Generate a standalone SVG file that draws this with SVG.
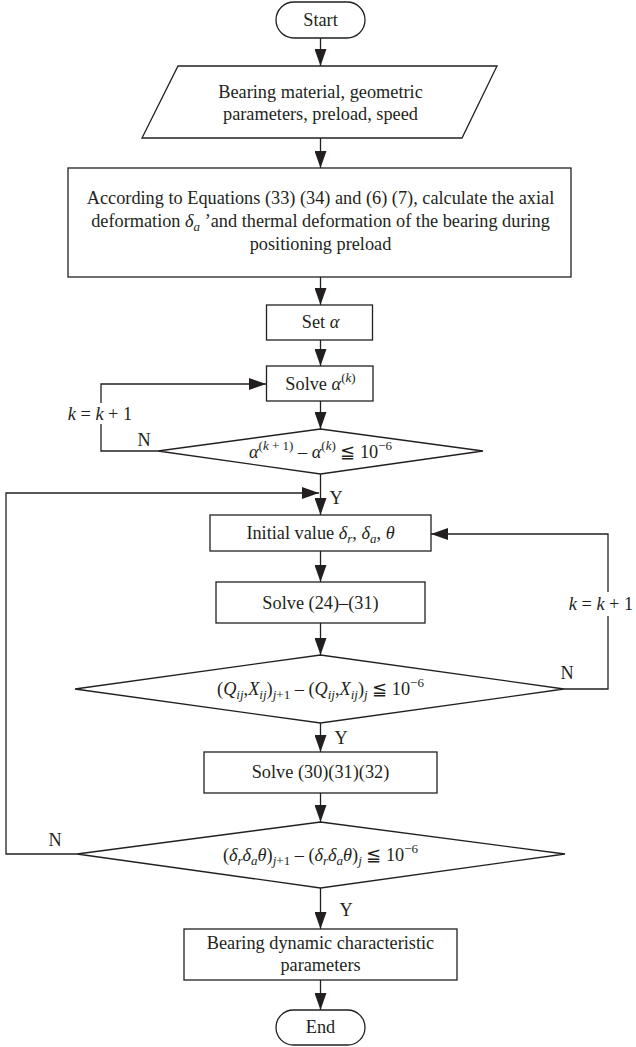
<svg xmlns="http://www.w3.org/2000/svg" width="636" height="1047" viewBox="0 0 636 1047">
<defs>
<style>
.s{fill:#fff;stroke:#231f20;stroke-width:1.3}
.c{fill:none;stroke:#231f20;stroke-width:1.3}
text{font-family:"Liberation Serif","Times New Roman",serif;font-size:18.3px;fill:#231f20}
.m{text-anchor:middle}
.i{font-style:italic}
.sb{font-size:13px}
</style>
<marker id="a" markerUnits="userSpaceOnUse" markerWidth="17" markerHeight="12" refX="17" refY="6" orient="auto">
<path d="M0,0 L17,6 L0,12 z" fill="#231f20"/>
</marker>
</defs>
<rect width="636" height="1047" fill="#fff"/>
<g id="connectors">
<line class="c" x1="320.5" y1="38" x2="320.5" y2="66" marker-end="url(#a)"/>
<line class="c" x1="320.5" y1="138" x2="320.5" y2="168" marker-end="url(#a)"/>
<line class="c" x1="320.5" y1="277" x2="320.5" y2="305" marker-end="url(#a)"/>
<line class="c" x1="320.5" y1="340" x2="320.5" y2="366" marker-end="url(#a)"/>
<line class="c" x1="320.5" y1="401" x2="320.5" y2="429" marker-end="url(#a)"/>
<polyline class="c" points="158,451 101,451 101,424"/>
<polyline class="c" points="101,403 101,384 266,384" marker-end="url(#a)"/>
<line class="c" x1="320.5" y1="474" x2="320.5" y2="515" marker-end="url(#a)"/>
<polyline class="c" points="77,854 6,854 6,493 319,493" marker-end="url(#a)"/>
<line class="c" x1="320.5" y1="551" x2="320.5" y2="582" marker-end="url(#a)"/>
<line class="c" x1="320.5" y1="623" x2="320.5" y2="655" marker-end="url(#a)"/>
<polyline class="c" points="564,689 608,689 608,616"/>
<polyline class="c" points="608,592 608,534 431,534" marker-end="url(#a)"/>
<line class="c" x1="320.5" y1="723" x2="320.5" y2="752" marker-end="url(#a)"/>
<line class="c" x1="320.5" y1="793" x2="320.5" y2="822" marker-end="url(#a)"/>
<line class="c" x1="320.5" y1="888" x2="320.5" y2="929" marker-end="url(#a)"/>
<line class="c" x1="320.5" y1="980" x2="320.5" y2="1010" marker-end="url(#a)"/>
<text x="100" y="420" class="m"><tspan class="i">k</tspan> = <tspan class="i">k</tspan> + 1</text>
<text x="144" y="446" class="m">N</text>
<text x="336" y="504" class="m">Y</text>
<text x="601" y="610" class="m"><tspan class="i">k</tspan> = <tspan class="i">k</tspan> + 1</text>
<text x="567" y="679" class="m">N</text>
<text x="341" y="744" class="m">Y</text>
<text x="55" y="846" class="m">N</text>
<text x="346" y="916" class="m">Y</text>
</g>
<g id="start">
<rect class="s" x="276" y="2" width="89" height="36" rx="18"/>
<text x="320.5" y="26" class="m">Start</text>
</g>
<g id="input">
<polygon class="s" points="178,66 497,66 462,138 142,138"/>
<text x="320.5" y="98" class="m">Bearing material, geometric</text>
<text x="320.5" y="120" class="m">parameters, preload, speed</text>
</g>
<g id="deformation">
<rect class="s" x="68" y="168" width="503" height="109"/>
<text x="320.5" y="204" class="m">According to Equations (33) (34) and (6) (7), calculate the axial</text>
<text x="320.5" y="227" class="m">deformation <tspan class="i">δ</tspan><tspan class="i sb" dy="4">a</tspan><tspan dy="-4"> ’and thermal deformation of the bearing during</tspan></text>
<text x="320.5" y="250" class="m">positioning preload</text>
</g>
<g id="set-alpha">
<rect class="s" x="266.5" y="305" width="106" height="35"/>
<text x="320.5" y="328" class="m">Set <tspan class="i">α</tspan></text>
</g>
<g id="solve-alpha">
<rect class="s" x="266.5" y="366" width="106.5" height="35"/>
<text x="320.5" y="390" class="m">Solve <tspan class="i">α</tspan><tspan class="sb" dy="-8">(<tspan class="i">k</tspan>)</tspan></text>
</g>
<g id="check-alpha">
<polygon class="s" points="158,451 320.5,429 483,451 320.5,474"/>
<text x="320.5" y="458" class="m"><tspan class="i">α</tspan><tspan class="sb" dy="-8">(<tspan class="i">k</tspan> + 1)</tspan><tspan dy="8"> – </tspan><tspan class="i">α</tspan><tspan class="sb" dy="-8">(<tspan class="i">k</tspan>)</tspan><tspan dy="8"> ≦ 10</tspan><tspan class="sb" dy="-8">−6</tspan></text>
</g>
<g id="initial">
<rect class="s" x="210" y="515" width="221" height="36"/>
<text x="320.5" y="539" class="m">Initial value <tspan class="i">δ</tspan><tspan class="i sb" dy="4">r</tspan><tspan dy="-4">, </tspan><tspan class="i">δ</tspan><tspan class="i sb" dy="4">a</tspan><tspan dy="-4">, </tspan><tspan class="i">θ</tspan></text>
</g>
<g id="solve-24-31">
<rect class="s" x="216" y="582" width="209" height="41"/>
<text x="320.5" y="609" class="m">Solve (24)–(31)</text>
</g>
<g id="check-qx">
<polygon class="s" points="75,689 320.5,655 564,689 320.5,723"/>
<text x="320.5" y="695" class="m">(<tspan class="i">Q</tspan><tspan class="i sb" dy="4">ij</tspan><tspan dy="-4">,</tspan><tspan class="i">X</tspan><tspan class="i sb" dy="4">ij</tspan><tspan dy="-4">)</tspan><tspan class="sb" dy="4"><tspan class="i">j</tspan>+1</tspan><tspan dy="-4"> – (</tspan><tspan class="i">Q</tspan><tspan class="i sb" dy="4">ij</tspan><tspan dy="-4">,</tspan><tspan class="i">X</tspan><tspan class="i sb" dy="4">ij</tspan><tspan dy="-4">)</tspan><tspan class="i sb" dy="4">j</tspan><tspan dy="-4"> ≦ 10</tspan><tspan class="sb" dy="-8">−6</tspan></text>
</g>
<g id="solve-30-32">
<rect class="s" x="204" y="752" width="233" height="41"/>
<text x="320.5" y="778" class="m">Solve (30)(31)(32)</text>
</g>
<g id="check-delta">
<polygon class="s" points="77,854 320.5,822 565,854 320.5,888"/>
<text x="320.5" y="861" class="m">(<tspan class="i">δ</tspan><tspan class="i sb" dy="4">r</tspan><tspan class="i" dy="-4">δ</tspan><tspan class="i sb" dy="4">a</tspan><tspan class="i" dy="-4">θ</tspan>)<tspan class="sb" dy="4"><tspan class="i">j</tspan>+1</tspan><tspan dy="-4"> – (</tspan><tspan class="i">δ</tspan><tspan class="i sb" dy="4">r</tspan><tspan class="i" dy="-4">δ</tspan><tspan class="i sb" dy="4">a</tspan><tspan class="i" dy="-4">θ</tspan>)<tspan class="i sb" dy="4">j</tspan><tspan dy="-4"> ≦ 10</tspan><tspan class="sb" dy="-8">−6</tspan></text>
</g>
<g id="result">
<rect class="s" x="184" y="929" width="273" height="51"/>
<text x="320.5" y="949" class="m">Bearing dynamic characteristic</text>
<text x="320.5" y="971" class="m">parameters</text>
</g>
<g id="end">
<rect class="s" x="276" y="1010" width="89" height="35" rx="17.5"/>
<text x="320.5" y="1033" class="m">End</text>
</g>
</svg>
